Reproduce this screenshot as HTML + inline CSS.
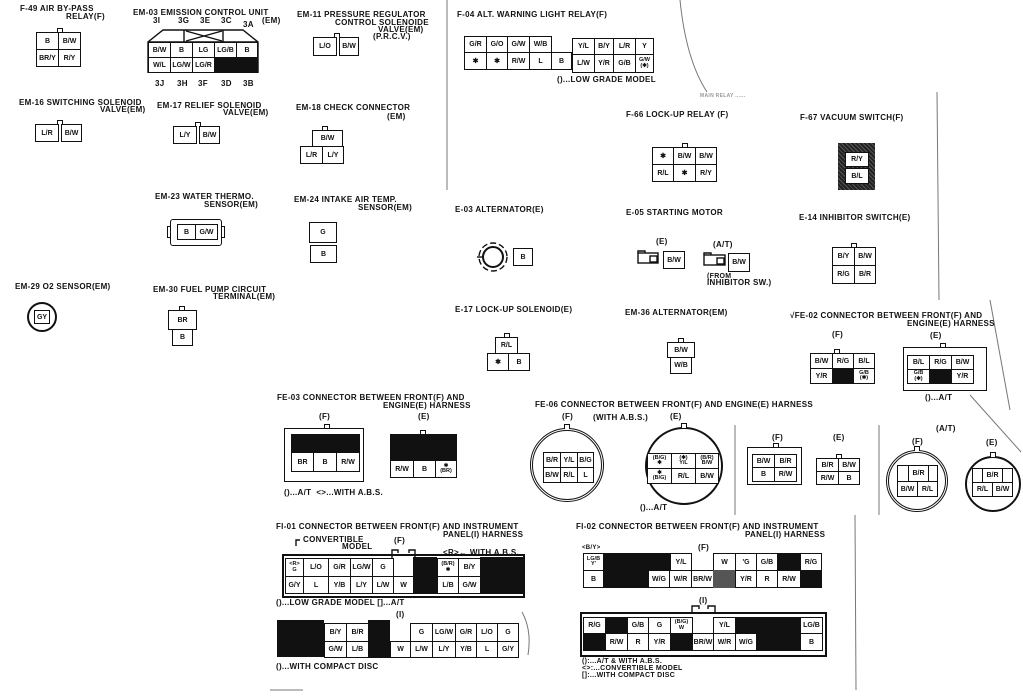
<!DOCTYPE html>
<html><head><meta charset="utf-8"><style>
html,body{margin:0;padding:0;background:#fff;}
body{width:1023px;height:697px;position:relative;overflow:hidden;font-family:"Liberation Sans",sans-serif;color:#111;}
.t{position:absolute;font-weight:bold;font-size:8px;line-height:8px;white-space:nowrap;letter-spacing:0.3px;}
.c{position:absolute;box-sizing:border-box;border:1.5px solid #111;font-weight:bold;font-size:7px;line-height:7px;display:flex;align-items:center;justify-content:center;text-align:center;background:#fff;white-space:nowrap;}
.k{position:absolute;background:#111;}
.n{position:absolute;box-sizing:border-box;border:1.2px solid #111;border-bottom:none;width:6px;height:5px;background:#fff;}
.o{position:absolute;box-sizing:border-box;border:1.5px solid #111;}
.s{font-size:5.5px;line-height:5.5px;}
</style></head><body>

<svg width="1023" height="697" style="position:absolute;left:0;top:0" xmlns="http://www.w3.org/2000/svg">
<g fill="none" stroke="#111" stroke-width="1.4">
<polyline points="148,73 148,42 163,30 243,30 258,42 258,73"/>
<line x1="148" y1="42" x2="258" y2="42"/>
<line x1="184" y1="30" x2="184" y2="42"/><line x1="223" y1="30" x2="223" y2="42"/>
<line x1="186" y1="31" x2="222" y2="41"/><line x1="186" y1="41" x2="222" y2="31"/>
<circle cx="493" cy="257" r="10" stroke-width="2"/>
<circle cx="493" cy="257" r="14" stroke-dasharray="6 3"/>
<line x1="477" y1="257" x2="483" y2="257"/>
<rect x="638" y="253" width="20" height="10"/><rect x="650" y="256" width="7" height="6"/>
<path d="M638,253 v-2 h7 v2"/>
<rect x="704" y="255" width="21" height="10"/><rect x="717" y="258" width="7" height="6"/>
<path d="M704,255 v-2 h7 v2"/>
<path d="M392,558 v-8 h6 v3 M409,553 v-3 h6 v8" />
<path d="M692,612 v-6 h7 v3 M708,609 v-3 h7 v6" />
<path d="M300,540 h-4 v6" />
</g>
<g fill="none" stroke="#777" stroke-width="1">
<path d="M680,0 Q686,60 707,92"/>
<line x1="447" y1="0" x2="447" y2="190"/>
<line x1="937" y1="92" x2="939" y2="300"/>
<line x1="735" y1="425" x2="735" y2="515"/>
<line x1="879" y1="425" x2="879" y2="515"/>
<line x1="855" y1="515" x2="856" y2="690"/>
<line x1="990" y1="300" x2="1010" y2="410"/>
<line x1="970" y1="395" x2="1021" y2="452"/>
<line x1="270" y1="690" x2="303" y2="690"/>
<path d="M522,612 Q532,630 528,655"/>
</g>
</svg>

<!-- F-49 -->
<div class="t" style="left:20px;top:5px">F-49 AIR BY-PASS</div>
<div class="t" style="left:66px;top:13px">RELAY(F)</div>
<div class="n" style="left:57px;top:28px"></div>
<div class="c" style="left:36px;top:32px;width:23px;height:18px">B</div>
<div class="c" style="left:58px;top:32px;width:23px;height:18px">B/W</div>
<div class="c" style="left:36px;top:49px;width:23px;height:18px">BR/Y</div>
<div class="c" style="left:58px;top:49px;width:23px;height:18px">R/Y</div>

<!-- EM-03 -->
<div class="t" style="left:133px;top:9px">EM-03 EMISSION CONTROL UNIT</div>
<div class="t" style="left:262px;top:17px">(EM)</div>
<div class="t" style="left:153px;top:17px">3I</div>
<div class="t" style="left:178px;top:17px">3G</div>
<div class="t" style="left:200px;top:17px">3E</div>
<div class="t" style="left:221px;top:17px">3C</div>
<div class="t" style="left:243px;top:21px">3A</div>
<div class="c" style="left:148px;top:42px;width:23px;height:16px">B/W</div>
<div class="c" style="left:170px;top:42px;width:23px;height:16px">B</div>
<div class="c" style="left:192px;top:42px;width:23px;height:16px">LG</div>
<div class="c" style="left:214px;top:42px;width:23px;height:16px">LG/B</div>
<div class="c" style="left:236px;top:42px;width:22px;height:16px">B</div>
<div class="c" style="left:148px;top:57px;width:23px;height:16px">W/L</div>
<div class="c" style="left:170px;top:57px;width:23px;height:16px">LG/W</div>
<div class="c" style="left:192px;top:57px;width:23px;height:16px">LG/R</div>
<div class="k" style="left:214px;top:57px;width:44px;height:16px"></div>
<div class="t" style="left:155px;top:80px">3J</div>
<div class="t" style="left:177px;top:80px">3H</div>
<div class="t" style="left:198px;top:80px">3F</div>
<div class="t" style="left:221px;top:80px">3D</div>
<div class="t" style="left:243px;top:80px">3B</div>

<!-- EM-11 -->
<div class="t" style="left:297px;top:11px">EM-11 PRESSURE REGULATOR</div>
<div class="t" style="left:335px;top:19px">CONTROL SOLENOIDE</div>
<div class="t" style="left:378px;top:26px">VALVE(EM)</div>
<div class="t" style="left:373px;top:33px">(P.R.C.V.)</div>
<div class="n" style="left:334px;top:33px"></div>
<div class="c" style="left:313px;top:37px;width:24px;height:19px">L/O</div>
<div class="c" style="left:339px;top:37px;width:20px;height:19px">B/W</div>

<!-- EM-16 -->
<div class="t" style="left:19px;top:99px">EM-16 SWITCHING SOLENOID</div>
<div class="t" style="left:100px;top:106px">VALVE(EM)</div>
<div class="n" style="left:57px;top:120px"></div>
<div class="c" style="left:35px;top:124px;width:24px;height:18px">L/R</div>
<div class="c" style="left:61px;top:124px;width:21px;height:18px">B/W</div>

<!-- EM-17 -->
<div class="t" style="left:157px;top:102px">EM-17 RELIEF SOLENOID</div>
<div class="t" style="left:223px;top:109px">VALVE(EM)</div>
<div class="n" style="left:195px;top:122px"></div>
<div class="c" style="left:173px;top:126px;width:24px;height:18px">L/Y</div>
<div class="c" style="left:199px;top:126px;width:21px;height:18px">B/W</div>

<!-- EM-18 -->
<div class="t" style="left:296px;top:104px">EM-18 CHECK CONNECTOR</div>
<div class="t" style="left:387px;top:113px">(EM)</div>
<div class="n" style="left:322px;top:126px"></div>
<div class="c" style="left:312px;top:130px;width:31px;height:17px">B/W</div>
<div class="c" style="left:300px;top:146px;width:23px;height:18px">L/R</div>
<div class="c" style="left:322px;top:146px;width:22px;height:18px">L/Y</div>

<!-- EM-23 -->
<div class="t" style="left:155px;top:193px">EM-23 WATER THERMO.</div>
<div class="t" style="left:204px;top:201px">SENSOR(EM)</div>
<div class="o" style="left:170px;top:219px;width:52px;height:27px;border-radius:3px"></div>
<div class="o" style="left:167px;top:226px;width:4px;height:12px"></div>
<div class="o" style="left:221px;top:226px;width:4px;height:12px"></div>
<div class="c" style="left:177px;top:224px;width:19px;height:16px">B</div>
<div class="c" style="left:195px;top:224px;width:23px;height:16px">G/W</div>

<!-- EM-24 -->
<div class="t" style="left:294px;top:196px">EM-24 INTAKE AIR TEMP.</div>
<div class="t" style="left:358px;top:204px">SENSOR(EM)</div>
<div class="c" style="left:309px;top:222px;width:28px;height:21px">G</div>
<div class="c" style="left:310px;top:245px;width:27px;height:18px">B</div>

<!-- EM-29 -->
<div class="t" style="left:15px;top:283px">EM-29 O2 SENSOR(EM)</div>
<div class="o" style="left:27px;top:302px;width:30px;height:30px;border-radius:50%;border-width:2px"></div>
<div class="c" style="left:34px;top:310px;width:16px;height:14px;border-width:1px">GY</div>

<!-- EM-30 -->
<div class="t" style="left:153px;top:286px">EM-30 FUEL PUMP CIRCUIT</div>
<div class="t" style="left:213px;top:293px">TERMINAL(EM)</div>
<div class="n" style="left:179px;top:306px"></div>
<div class="c" style="left:168px;top:310px;width:29px;height:20px">BR</div>
<div class="c" style="left:172px;top:329px;width:21px;height:17px">B</div>

<!-- F-04 -->
<div class="t" style="left:457px;top:11px">F-04 ALT. WARNING LIGHT RELAY(F)</div>
<div class="c" style="left:464px;top:36px;width:23px;height:17px">G/R</div>
<div class="c" style="left:486px;top:36px;width:22px;height:17px">G/O</div>
<div class="c" style="left:507px;top:36px;width:23px;height:17px">G/W</div>
<div class="c" style="left:529px;top:36px;width:23px;height:17px">W/B</div>
<div class="c" style="left:464px;top:52px;width:23px;height:18px">✱</div>
<div class="c" style="left:486px;top:52px;width:22px;height:18px">✱</div>
<div class="c" style="left:507px;top:52px;width:23px;height:18px">R/W</div>
<div class="c" style="left:529px;top:52px;width:23px;height:18px">L</div>
<div class="c" style="left:551px;top:52px;width:21px;height:18px">B</div>
<div class="c" style="left:572px;top:38px;width:23px;height:17px">Y/L</div>
<div class="c" style="left:594px;top:38px;width:20px;height:17px">B/Y</div>
<div class="c" style="left:613px;top:38px;width:23px;height:17px">L/R</div>
<div class="c" style="left:635px;top:38px;width:19px;height:17px">Y</div>
<div class="c" style="left:572px;top:54px;width:23px;height:19px">L/W</div>
<div class="c" style="left:594px;top:54px;width:20px;height:19px">Y/R</div>
<div class="c" style="left:613px;top:54px;width:23px;height:19px">G/B</div>
<div class="c s" style="left:635px;top:54px;width:19px;height:19px">G/W<br>(✱)</div>
<div class="t" style="left:557px;top:76px">()...LOW GRADE MODEL</div>
<div class="t" style="left:700px;top:92px;color:#999;font-size:5px">MAIN RELAY ......</div>

<!-- F-66 -->
<div class="t" style="left:626px;top:111px">F-66 LOCK-UP RELAY (F)</div>
<div class="n" style="left:682px;top:143px"></div>
<div class="c" style="left:652px;top:147px;width:22px;height:18px">✱</div>
<div class="c" style="left:673px;top:147px;width:23px;height:18px">B/W</div>
<div class="c" style="left:695px;top:147px;width:22px;height:18px">B/W</div>
<div class="c" style="left:652px;top:164px;width:22px;height:18px">R/L</div>
<div class="c" style="left:673px;top:164px;width:23px;height:18px">✱</div>
<div class="c" style="left:695px;top:164px;width:22px;height:18px">R/Y</div>

<!-- F-67 -->
<div class="t" style="left:800px;top:114px">F-67 VACUUM SWITCH(F)</div>
<div class="k" style="left:838px;top:143px;width:37px;height:47px;background:repeating-linear-gradient(45deg,#222 0 2px,#555 2px 3px)"></div>
<div class="c" style="left:845px;top:152px;width:24px;height:15px">R/Y</div>
<div class="c" style="left:845px;top:168px;width:24px;height:16px">B/L</div>

<!-- E-03 -->
<div class="t" style="left:455px;top:206px">E-03 ALTERNATOR(E)</div>
<div class="c" style="left:513px;top:248px;width:20px;height:18px">B</div>

<!-- E-05 -->
<div class="t" style="left:626px;top:209px">E-05 STARTING MOTOR</div>
<div class="t" style="left:656px;top:238px">(E)</div>
<div class="c" style="left:663px;top:251px;width:22px;height:18px">B/W</div>
<div class="t" style="left:713px;top:241px">(A/T)</div>
<div class="c" style="left:728px;top:253px;width:22px;height:19px">B/W</div>
<div class="t" style="left:707px;top:273px;font-size:7px;line-height:7px">(FROM</div>
<div class="t" style="left:707px;top:279px">INHIBITOR SW.)</div>

<!-- E-14 -->
<div class="t" style="left:799px;top:214px">E-14 INHIBITOR SWITCH(E)</div>
<div class="n" style="left:851px;top:243px"></div>
<div class="c" style="left:832px;top:247px;width:23px;height:19px">B/Y</div>
<div class="c" style="left:854px;top:247px;width:22px;height:19px">B/W</div>
<div class="c" style="left:832px;top:265px;width:23px;height:19px">R/G</div>
<div class="c" style="left:854px;top:265px;width:22px;height:19px">B/R</div>

<!-- E-17 -->
<div class="t" style="left:455px;top:306px">E-17 LOCK-UP SOLENOID(E)</div>
<div class="n" style="left:504px;top:333px"></div>
<div class="c" style="left:495px;top:337px;width:23px;height:17px">R/L</div>
<div class="c" style="left:487px;top:353px;width:22px;height:18px">✱</div>
<div class="c" style="left:508px;top:353px;width:22px;height:18px">B</div>

<!-- EM-36 -->
<div class="t" style="left:625px;top:309px">EM-36 ALTERNATOR(EM)</div>
<div class="n" style="left:678px;top:338px"></div>
<div class="c" style="left:667px;top:342px;width:28px;height:16px">B/W</div>
<div class="c" style="left:670px;top:357px;width:22px;height:17px">W/B</div>

<!-- FE-02 -->
<div class="t" style="left:790px;top:312px">√FE-02 CONNECTOR BETWEEN FRONT(F) AND</div>
<div class="t" style="left:907px;top:320px">ENGINE(E) HARNESS</div>
<div class="t" style="left:832px;top:331px">(F)</div>
<div class="n" style="left:834px;top:349px"></div>
<div class="c" style="left:810px;top:353px;width:23px;height:16px">B/W</div>
<div class="c" style="left:832px;top:353px;width:22px;height:16px">R/G</div>
<div class="c" style="left:853px;top:353px;width:22px;height:16px">B/L</div>
<div class="c" style="left:810px;top:368px;width:23px;height:16px">Y/R</div>
<div class="k" style="left:832px;top:368px;width:22px;height:16px"></div>
<div class="c s" style="left:853px;top:368px;width:22px;height:16px">G/B<br>(✱)</div>
<div class="t" style="left:930px;top:332px">(E)</div>
<div class="n" style="left:940px;top:343px"></div>
<div class="o" style="left:903px;top:347px;width:84px;height:44px"></div>
<div class="c" style="left:907px;top:355px;width:23px;height:15px">B/L</div>
<div class="c" style="left:929px;top:355px;width:23px;height:15px">R/G</div>
<div class="c" style="left:951px;top:355px;width:23px;height:15px">B/W</div>
<div class="c s" style="left:907px;top:369px;width:23px;height:15px">G/B<br>(✱)</div>
<div class="k" style="left:929px;top:369px;width:23px;height:15px"></div>
<div class="c" style="left:951px;top:369px;width:23px;height:15px">Y/R</div>
<div class="t" style="left:925px;top:394px">()...A/T</div>

<!-- FE-03 -->
<div class="t" style="left:277px;top:394px">FE-03 CONNECTOR BETWEEN FRONT(F) AND</div>
<div class="t" style="left:383px;top:402px">ENGINE(E) HARNESS</div>
<div class="t" style="left:319px;top:413px">(F)</div>
<div class="n" style="left:324px;top:424px"></div>
<div class="o" style="left:284px;top:428px;width:80px;height:54px"></div>
<div class="k" style="left:291px;top:434px;width:69px;height:19px"></div>
<div class="c" style="left:291px;top:452px;width:23px;height:20px">BR</div>
<div class="c" style="left:313px;top:452px;width:24px;height:20px">B</div>
<div class="c" style="left:336px;top:452px;width:24px;height:20px">R/W</div>
<div class="t" style="left:418px;top:413px">(E)</div>
<div class="n" style="left:420px;top:430px"></div>
<div class="k" style="left:390px;top:434px;width:67px;height:27px"></div>
<div class="c" style="left:390px;top:460px;width:24px;height:18px">R/W</div>
<div class="c" style="left:413px;top:460px;width:23px;height:18px">B</div>
<div class="c s" style="left:435px;top:460px;width:22px;height:18px">✱<br>(BR)</div>
<div class="t" style="left:284px;top:489px">()...A/T &nbsp;&lt;&gt;...WITH A.B.S.</div>

<!-- FE-06 -->
<div class="t" style="left:535px;top:401px">FE-06 CONNECTOR BETWEEN FRONT(F) AND ENGINE(E) HARNESS</div>
<div class="t" style="left:562px;top:413px">(F)</div>
<div class="t" style="left:593px;top:414px">(WITH A.B.S.)</div>
<div class="t" style="left:670px;top:413px">(E)</div>
<div class="o" style="left:530px;top:428px;width:74px;height:74px;border-radius:50%;border:3px double #111"></div>
<div class="n" style="left:564px;top:424px"></div>
<div class="c" style="left:543px;top:452px;width:18px;height:16px">B/R</div>
<div class="c" style="left:560px;top:452px;width:18px;height:16px">Y/L</div>
<div class="c" style="left:577px;top:452px;width:17px;height:16px">B/G</div>
<div class="c" style="left:543px;top:467px;width:18px;height:16px">B/W</div>
<div class="c" style="left:560px;top:467px;width:18px;height:16px">R/L</div>
<div class="c" style="left:577px;top:467px;width:17px;height:16px">L</div>
<div class="o" style="left:645px;top:427px;width:78px;height:78px;border-radius:50%;border-width:2px"></div>
<div class="n" style="left:681px;top:423px"></div>
<div class="c s" style="left:647px;top:453px;width:25px;height:16px">(B/G)<br>✱</div>
<div class="c s" style="left:671px;top:453px;width:25px;height:16px">(✱)<br>Y/L</div>
<div class="c s" style="left:695px;top:453px;width:24px;height:16px">(B/R)<br>B/W</div>
<div class="c s" style="left:647px;top:468px;width:25px;height:16px">✱<br>(B/G)</div>
<div class="c" style="left:671px;top:468px;width:25px;height:16px">R/L</div>
<div class="c" style="left:695px;top:468px;width:24px;height:16px">B/W</div>
<div class="t" style="left:640px;top:504px">()...A/T</div>

<div class="t" style="left:772px;top:434px">(F)</div>
<div class="n" style="left:773px;top:443px"></div>
<div class="o" style="left:747px;top:447px;width:55px;height:38px"></div>
<div class="c" style="left:752px;top:454px;width:23px;height:14px">B/W</div>
<div class="c" style="left:774px;top:454px;width:23px;height:14px">B/R</div>
<div class="c" style="left:752px;top:467px;width:23px;height:15px">B</div>
<div class="c" style="left:774px;top:467px;width:23px;height:15px">R/W</div>
<div class="t" style="left:833px;top:434px">(E)</div>
<div class="n" style="left:836px;top:454px"></div>
<div class="c" style="left:816px;top:458px;width:23px;height:14px">B/R</div>
<div class="c" style="left:838px;top:458px;width:22px;height:14px">B/W</div>
<div class="c" style="left:816px;top:471px;width:23px;height:14px">R/W</div>
<div class="c" style="left:838px;top:471px;width:22px;height:14px">B</div>

<div class="t" style="left:936px;top:425px">(A/T)</div>
<div class="t" style="left:912px;top:438px">(F)</div>
<div class="o" style="left:886px;top:450px;width:62px;height:62px;border-radius:50%;border:3px double #111"></div>
<div class="n" style="left:914px;top:446px"></div>
<div class="c" style="left:897px;top:465px;width:12px;height:17px"></div>
<div class="c" style="left:908px;top:465px;width:21px;height:17px">B/R</div>
<div class="c" style="left:928px;top:465px;width:10px;height:17px"></div>
<div class="c" style="left:897px;top:481px;width:21px;height:16px">B/W</div>
<div class="c" style="left:917px;top:481px;width:21px;height:16px">R/L</div>
<div class="t" style="left:986px;top:439px">(E)</div>
<div class="o" style="left:965px;top:456px;width:56px;height:56px;border-radius:50%;border-width:2px"></div>
<div class="n" style="left:990px;top:452px"></div>
<div class="c" style="left:972px;top:468px;width:11px;height:15px"></div>
<div class="c" style="left:982px;top:468px;width:21px;height:15px">B/R</div>
<div class="c" style="left:1002px;top:468px;width:11px;height:15px"></div>
<div class="c" style="left:972px;top:482px;width:21px;height:15px">R/L</div>
<div class="c" style="left:992px;top:482px;width:21px;height:15px">B/W</div>

<!-- FI-01 -->
<div class="t" style="left:276px;top:523px">FI-01 CONNECTOR BETWEEN FRONT(F) AND INSTRUMENT</div>
<div class="t" style="left:443px;top:531px">PANEL(I) HARNESS</div>
<div class="t" style="left:303px;top:536px">CONVERTIBLE</div>
<div class="t" style="left:342px;top:543px">MODEL</div>
<div class="t" style="left:394px;top:537px">(F)</div>
<div class="t" style="left:443px;top:549px">&lt;R&gt;← WITH A.B.S.</div>
<div class="o" style="left:282px;top:554px;width:243px;height:44px;border-width:2px"></div>
<div class="c s" style="left:285px;top:558px;width:19px;height:19px">&lt;R&gt;<br>G</div>
<div class="c" style="left:303px;top:558px;width:26px;height:19px">L/O</div>
<div class="c" style="left:328px;top:558px;width:23px;height:19px">G/R</div>
<div class="c" style="left:350px;top:558px;width:23px;height:19px">LG/W</div>
<div class="c" style="left:372px;top:558px;width:22px;height:19px">G</div>
<div class="k" style="left:413px;top:557px;width:24px;height:37px"></div>
<div class="c s" style="left:437px;top:558px;width:22px;height:19px">(B/R)<br>✱</div>
<div class="c" style="left:458px;top:558px;width:23px;height:19px">B/Y</div>
<div class="k" style="left:480px;top:557px;width:43px;height:37px"></div>
<div class="c" style="left:285px;top:576px;width:19px;height:18px">G/Y</div>
<div class="c" style="left:303px;top:576px;width:26px;height:18px">L</div>
<div class="c" style="left:328px;top:576px;width:23px;height:18px">Y/B</div>
<div class="c" style="left:350px;top:576px;width:23px;height:18px">L/Y</div>
<div class="c" style="left:372px;top:576px;width:22px;height:18px">L/W</div>
<div class="c" style="left:393px;top:576px;width:21px;height:18px">W</div>
<div class="c" style="left:437px;top:576px;width:22px;height:18px">L/B</div>
<div class="c" style="left:458px;top:576px;width:23px;height:18px">G/W</div>
<div class="t" style="left:276px;top:599px">()...LOW GRADE MODEL []...A/T</div>
<div class="t" style="left:396px;top:611px">(I)</div>
<div class="k" style="left:277px;top:620px;width:47px;height:37px"></div>
<div class="c" style="left:324px;top:623px;width:23px;height:19px">B/Y</div>
<div class="c" style="left:346px;top:623px;width:23px;height:19px">B/R</div>
<div class="c" style="left:324px;top:641px;width:23px;height:17px">G/W</div>
<div class="c" style="left:346px;top:641px;width:23px;height:17px">L/B</div>
<div class="k" style="left:368px;top:620px;width:22px;height:38px"></div>
<div class="c" style="left:390px;top:641px;width:21px;height:17px">W</div>
<div class="c" style="left:410px;top:623px;width:23px;height:19px">G</div>
<div class="c" style="left:432px;top:623px;width:24px;height:19px">LG/W</div>
<div class="c" style="left:455px;top:623px;width:22px;height:19px">G/R</div>
<div class="c" style="left:476px;top:623px;width:22px;height:19px">L/O</div>
<div class="c" style="left:497px;top:623px;width:22px;height:19px">G</div>
<div class="c" style="left:410px;top:641px;width:23px;height:17px">L/W</div>
<div class="c" style="left:432px;top:641px;width:24px;height:17px">L/Y</div>
<div class="c" style="left:455px;top:641px;width:22px;height:17px">Y/B</div>
<div class="c" style="left:476px;top:641px;width:22px;height:17px">L</div>
<div class="c" style="left:497px;top:641px;width:22px;height:17px">G/Y</div>
<div class="t" style="left:276px;top:663px">()...WITH COMPACT DISC</div>

<!-- FI-02 -->
<div class="t" style="left:576px;top:523px">FI-02 CONNECTOR BETWEEN FRONT(F) AND INSTRUMENT</div>
<div class="t" style="left:745px;top:531px">PANEL(I) HARNESS</div>
<div class="t" style="left:582px;top:544px;font-size:6px">&lt;B/Y&gt;</div>
<div class="t" style="left:698px;top:544px">(F)</div>
<div class="c s" style="left:583px;top:553px;width:21px;height:18px">LG/B<br>Y'</div>
<div class="c" style="left:583px;top:570px;width:21px;height:18px">B</div>
<div class="k" style="left:603px;top:553px;width:67px;height:18px"></div>
<div class="k" style="left:603px;top:570px;width:45px;height:18px"></div>
<div class="c" style="left:670px;top:553px;width:22px;height:18px">Y/L</div>
<div class="c" style="left:713px;top:553px;width:23px;height:18px">W</div>
<div class="c" style="left:735px;top:553px;width:22px;height:18px">'G</div>
<div class="c" style="left:756px;top:553px;width:22px;height:18px">G/B</div>
<div class="k" style="left:777px;top:553px;width:23px;height:18px"></div>
<div class="c" style="left:800px;top:553px;width:22px;height:18px">R/G</div>
<div class="c" style="left:648px;top:570px;width:22px;height:18px">W/G</div>
<div class="c" style="left:669px;top:570px;width:23px;height:18px">W/R</div>
<div class="c" style="left:691px;top:570px;width:23px;height:18px">BR/W</div>
<div class="k" style="left:713px;top:570px;width:22px;height:18px;background:#555"></div>
<div class="c" style="left:735px;top:570px;width:22px;height:18px">Y/R</div>
<div class="c" style="left:756px;top:570px;width:22px;height:18px">R</div>
<div class="c" style="left:777px;top:570px;width:24px;height:18px">R/W</div>
<div class="k" style="left:800px;top:570px;width:22px;height:18px"></div>
<div class="t" style="left:699px;top:597px">(I)</div>
<div class="o" style="left:580px;top:612px;width:247px;height:45px;border-width:2px"></div>
<div class="c" style="left:583px;top:617px;width:23px;height:17px">R/G</div>
<div class="k" style="left:605px;top:617px;width:22px;height:17px"></div>
<div class="c" style="left:627px;top:617px;width:22px;height:17px">G/B</div>
<div class="c" style="left:648px;top:617px;width:23px;height:17px">G</div>
<div class="c s" style="left:670px;top:617px;width:23px;height:17px">(B/G)<br>W</div>
<div class="c" style="left:713px;top:617px;width:23px;height:17px">Y/L</div>
<div class="k" style="left:735px;top:617px;width:65px;height:17px"></div>
<div class="c" style="left:800px;top:617px;width:23px;height:17px">LG/B</div>
<div class="k" style="left:583px;top:633px;width:22px;height:18px"></div>
<div class="c" style="left:605px;top:633px;width:23px;height:18px">R/W</div>
<div class="c" style="left:627px;top:633px;width:22px;height:18px">R</div>
<div class="c" style="left:648px;top:633px;width:23px;height:18px">Y/R</div>
<div class="k" style="left:670px;top:633px;width:22px;height:18px"></div>
<div class="c" style="left:692px;top:633px;width:22px;height:18px">BR/W</div>
<div class="c" style="left:713px;top:633px;width:23px;height:18px">W/R</div>
<div class="c" style="left:735px;top:633px;width:22px;height:18px">W/G</div>
<div class="k" style="left:756px;top:633px;width:44px;height:18px"></div>
<div class="c" style="left:800px;top:633px;width:23px;height:18px">B</div>
<div class="t" style="left:582px;top:658px;font-size:7px;line-height:7px">():...A/T &amp; WITH A.B.S.</div>
<div class="t" style="left:582px;top:665px;font-size:7px;line-height:7px">&lt;&gt;:...CONVERTIBLE MODEL</div>
<div class="t" style="left:582px;top:672px;font-size:7px;line-height:7px">[]:...WITH COMPACT DISC</div>

</body></html>
